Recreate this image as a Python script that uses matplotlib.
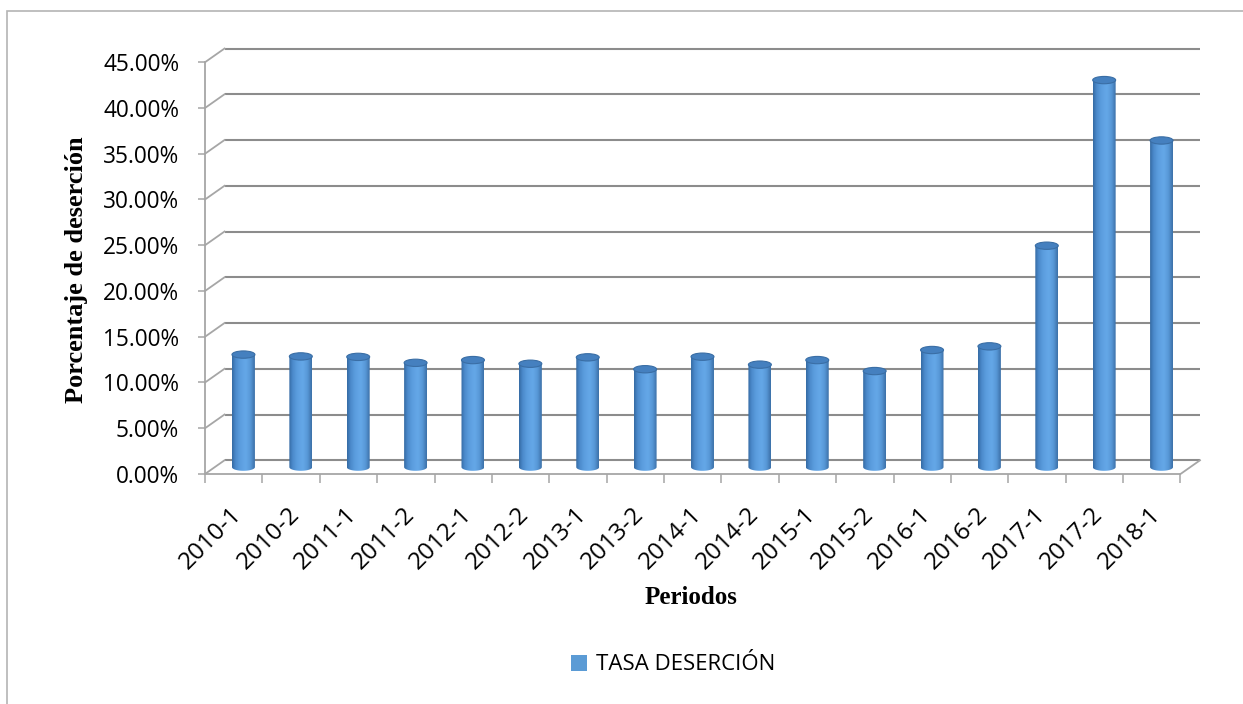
import numpy as np
import matplotlib
matplotlib.use("Agg")
import matplotlib.pyplot as plt
from matplotlib.path import Path
from matplotlib.patches import PathPatch, Ellipse, Rectangle, Patch
from matplotlib.colors import LinearSegmentedColormap
from matplotlib.ticker import FuncFormatter, FixedLocator
from matplotlib.transforms import ScaledTranslation

# ---- data ----
periodos = ["2010-1", "2010-2", "2011-1", "2011-2", "2012-1", "2012-2", "2013-1",
            "2013-2", "2014-1", "2014-2", "2015-1", "2015-2", "2016-1", "2016-2",
            "2017-1", "2017-2", "2018-1"]
tasa_desercion = [12.3, 12.1, 12.05, 11.4, 11.7, 11.3, 12.0, 10.7, 12.07, 11.2,
                  11.7, 10.5, 12.8, 13.2, 24.2, 42.3, 35.7]
y_ticks = [0, 5, 10, 15, 20, 25, 30, 35, 40, 45]
serie_nombre = "TASA DESERCIÓN"
y_titulo = "Porcentaje de deserción"
x_titulo = "Periodos"

# ---- styling ----
W, H = 1243, 704
fig = plt.figure(figsize=(W / 100, H / 100), dpi=100)
fig.patch.set_facecolor("white")

# outer chart border
fig.add_artist(Rectangle((7 / W, -0.05), 1.2, 1 - 11 / H + 0.05, transform=fig.transFigure,
                         fill=False, edgecolor="#b4b4b4", linewidth=1.2))

dx, dy = 0.34, 1.5          # depth offset (category units, percent units)
n = len(periodos)
ytop = 46.6
ax = fig.add_axes([205 / W, 1 - 474 / H, (1200 - 205) / W, (474 - 47.6) / H])
ax.set_facecolor("none")
ax.set_xlim(-0.5, n - 0.5 + dx)
ax.set_ylim(0, ytop)

grid_c = "#8c8c8c"
axis_c = "#a6a6a6"
# back wall gridlines + left connectors
for k in y_ticks:
    ax.plot([-0.5 + dx, n - 0.5 + dx], [k + dy, k + dy], color=grid_c, lw=1.5,
            zorder=1, clip_on=False, solid_capstyle="butt")
    ax.plot([-0.5, -0.5 + dx], [k, k + dy], color=axis_c, lw=1.3, zorder=1, clip_on=False)
# floor right edge
ax.plot([n - 0.5, n - 0.5 + dx], [0, dy], color=axis_c, lw=1.3, zorder=1, clip_on=False)

# spines
for s in ["top", "right"]:
    ax.spines[s].set_visible(False)
ax.spines["left"].set_bounds(0, 45)
ax.spines["bottom"].set_bounds(-0.5, n - 0.5)
for s in ["left", "bottom"]:
    ax.spines[s].set_color(axis_c)
    ax.spines[s].set_linewidth(1.3)

tick_family = ["Open Sans", "DejaVu Sans"]
ax.set_yticks(y_ticks)
ax.yaxis.set_major_formatter(FuncFormatter(lambda v, p: f"{v:.2f}%"))
ax.tick_params(axis="y", length=5, width=1.1, color=axis_c, pad=13.5, labelcolor="black")
for lab in ax.get_yticklabels():
    lab.set_fontfamily(tick_family); lab.set_fontsize(16.3)

ax.set_xticks(range(n))
ax.set_xticklabels(periodos, rotation=45, ha="right", va="center", rotation_mode="anchor",
                   fontfamily=tick_family, fontsize=17.5)
ax.xaxis.set_minor_locator(FixedLocator(np.arange(-0.5, n, 1.0)))
ax.tick_params(axis="x", which="major", length=0, pad=26.5)
ax.tick_params(axis="x", which="minor", length=6.5, width=1.1, color=axis_c)
shift = ScaledTranslation(5 / 100, 0, fig.dpi_scale_trans)
for lab in ax.get_xticklabels():
    lab.set_transform(lab.get_transform() + shift)

# cylinders
cmap = LinearSegmentedColormap.from_list(
    "cyl", [(0.0, "#356aa3"), (0.15, "#4b8acb"), (0.35, "#5b9dde"), (0.6, "#65a8e8"),
            (0.82, "#5797d6"), (1.0, "#3c70a8")])
grad = np.linspace(0, 1, 64).reshape(1, -1)
bw, eh = 0.40, 0.8
base = dy / 2
for i, v in enumerate(tasa_desercion):
    cx = i + dx / 2
    top = v + base
    t = np.linspace(np.pi, 2 * np.pi, 40)
    verts = [(cx - bw / 2, top), (cx - bw / 2, base)]
    verts += list(zip(cx + bw / 2 * np.cos(t), base + eh / 2 * np.sin(t)))
    verts += [(cx + bw / 2, top), (cx - bw / 2, top)]
    codes = [Path.MOVETO] + [Path.LINETO] * (len(verts) - 2) + [Path.CLOSEPOLY]
    clip = PathPatch(Path(verts, codes), transform=ax.transData, facecolor="none",
                     edgecolor="none")
    im = ax.imshow(grad, cmap=cmap, aspect="auto", interpolation="bicubic",
                   extent=(cx - bw / 2, cx + bw / 2, base - eh / 2, top), zorder=3)
    im.set_clip_path(clip)
    ax.add_patch(Ellipse((cx, top), bw, eh, facecolor="#4580bf", edgecolor="#3a6ea5",
                         lw=0.8, zorder=4))

ax.set_xlim(-0.5, n - 0.5 + dx)
ax.set_ylim(0, ytop)

# axis titles
ax.set_ylabel(y_titulo, fontfamily=["Liberation Serif", "DejaVu Serif"], fontweight="bold",
              fontsize=19)
ax.yaxis.set_label_coords((88 - 205) / 995, (474 - 270) / 426.4)
ax.set_xlabel(x_titulo, fontfamily=["Liberation Serif", "DejaVu Serif"], fontweight="bold",
              fontsize=18)
ax.xaxis.set_label_coords((691 - 205) / 995, (474 - 586) / 426.4)

# legend
fig.legend(handles=[Patch(facecolor="#5b9bd5", edgecolor="none", label=serie_nombre)],
           loc="center", bbox_to_anchor=(673 / W, 1 - 665 / H), frameon=False,
           prop=dict(family=tick_family, size=16),
           handlelength=0.72, handleheight=0.72, handletextpad=0.4)

fig.savefig("out.png", dpi=100, facecolor="white")
